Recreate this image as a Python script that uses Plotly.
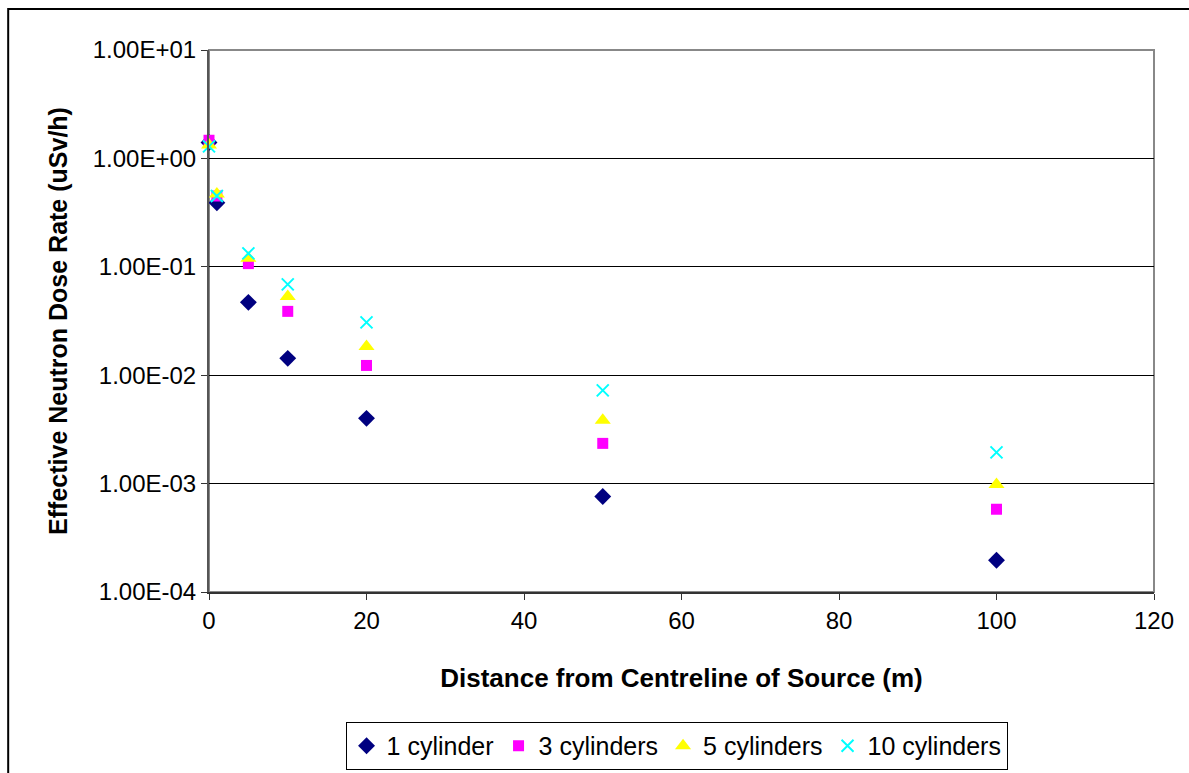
import plotly.graph_objects as go

distance = [0, 1, 5, 10, 20, 50, 100]
one_cyl = [1.40, 0.39, 0.047, 0.0143, 0.0040, 7.6e-4, 1.96e-4]
three_cyl = [1.47, 0.45, 0.107, 0.0388, 0.0123, 2.35e-3, 5.8e-4]
five_cyl = [1.33, 0.47, 0.120, 0.0533, 0.0184, 3.85e-3, 9.8e-4]
ten_cyl = [1.29, 0.45, 0.133, 0.0689, 0.0307, 7.24e-3, 1.94e-3]

y_tickvals = [1e-4, 1e-3, 1e-2, 1e-1, 1e0, 1e1]
y_ticktext = ["1.00E-04", "1.00E-03", "1.00E-02", "1.00E-01", "1.00E+00", "1.00E+01"]
x_tickvals = [0, 20, 40, 60, 80, 100, 120]

series = [
    ("1 cylinder", one_cyl, "diamond", "#000080", 13),
    ("3 cylinders", three_cyl, "square", "#FF00FF", 11),
    ("5 cylinders", five_cyl, "triangle-up", "#FFFF00", 14),
    ("10 cylinders", ten_cyl, "x-thin", "#00FFFF", 12),
]

fig = go.Figure()
for name, vals, sym, col, sz in series:
    marker = dict(symbol=sym, color=col, size=sz)
    if sym == "x-thin":
        marker["line"] = dict(color=col, width=2)
    else:
        marker["line"] = dict(width=0)
    fig.add_trace(go.Scatter(x=distance, y=vals, mode="markers", name=name,
                             marker=marker, cliponaxis=False))

font = "Liberation Sans, Arial, sans-serif"
fig.update_layout(
    width=1189, height=773,
    margin=dict(l=209, r=35, t=50, b=181, autoexpand=False),
    paper_bgcolor="white", plot_bgcolor="white",
    font=dict(family=font, size=24, color="black"),
    showlegend=True,
    legend=dict(orientation="h", xref="container", yref="container",
                x=0.569, xanchor="center", y=0.066, yanchor="top",
                bordercolor="black", borderwidth=1, font=dict(size=25),
                tracegroupgap=0, itemwidth=30),
    xaxis=dict(range=[0, 120], tickvals=x_tickvals, showgrid=False, zeroline=False,
               showline=True, linecolor="#333333", linewidth=2, automargin=False,
               ticks="outside", ticklen=6, tickcolor="#333333",
               tickfont=dict(size=24),
               title=dict(text="<b>Distance from Centreline of Source (m)</b>",
                          font=dict(size=26), standoff=36)),
    yaxis=dict(type="log", range=[-4, 1], tickvals=y_tickvals, ticktext=y_ticktext,
               showgrid=True, gridcolor="black", gridwidth=1, zeroline=False,
               showline=True, linecolor="#555555", linewidth=2, automargin=False,
               ticks="outside", ticklen=6, tickcolor="#333333",
               tickfont=dict(size=24),
               title=dict(text="<b>Effective Neutron Dose Rate (uSv/h)</b>",
                          font=dict(size=25), standoff=18)),
    shapes=[
        dict(type="rect", xref="paper", yref="paper", x0=0, x1=1, y0=0, y1=1,
             line=dict(color="#888888", width=2), layer="below"),
        dict(type="rect", xref="paper", yref="paper", x0=-0.2125, x1=1.2, y0=-0.5, y1=1.0756,
             line=dict(color="black", width=2), layer="below"),
    ],
)

fig.write_html("out.html")
